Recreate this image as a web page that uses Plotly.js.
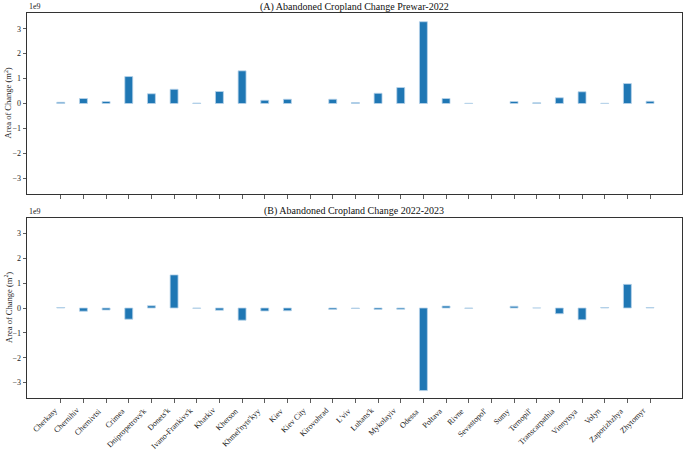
<!DOCTYPE html>
<html><head><meta charset="utf-8">
<script src="https://cdn.plot.ly/plotly-3.0.1.min.js"></script>
<style>html,body{margin:0;padding:0;background:#fff}#c{width:685px;height:450px}</style>
</head><body><div id="c"></div>
<script>
const regions = ["Cherkasy","Chernihiv","Chernivtsi","Crimea","Dnipropetrovs'k","Donets'k","Ivano-Frankivs'k","Kharkiv","Kherson","Khmel'nyts'kyy","Kiev","Kiev City","Kirovohrad","L'viv","Luhans'k","Mykolayiv","Odessa","Poltava","Rivne","Sevastopol'","Sumy","Ternopil'","Transcarpathia","Vinnytsya","Volyn","Zaporizhzhya","Zhytomyr"];
const changePrewar2022 = [0.05e9,0.2e9,0.08e9,1.08e9,0.39e9,0.57e9,0.02e9,0.48e9,1.31e9,0.13e9,0.17e9,null,0.17e9,0.04e9,0.41e9,0.64e9,3.28e9,0.2e9,0.01e9,null,0.08e9,0.03e9,0.23e9,0.47e9,0.01e9,0.8e9,0.09e9];
const change2022_2023 = [0.02e9,-0.13e9,-0.08e9,-0.45e9,0.09e9,1.33e9,-0.01e9,-0.09e9,-0.49e9,-0.12e9,-0.11e9,null,-0.06e9,-0.02e9,-0.06e9,-0.05e9,-3.32e9,0.08e9,-0.01e9,null,0.07e9,0.005e9,-0.23e9,-0.47e9,0.02e9,0.95e9,0.02e9];
const yTickVals = [-3e9,-2e9,-1e9,0,1e9,2e9,3e9];
const yTickText = ["\u22123","\u22122","\u22121","0","1","2","3"];
const titleA = "(A) Abandoned Cropland Change Prewar-2022";
const titleB = "(B) Abandoned Cropland Change 2022-2023";

const font = "Liberation Serif";
const barStyle = {color:"#1f77b4", line:{color:"#b8d3ea", width:0.8}};
const traces = [
  {type:"bar", x:regions, y:changePrewar2022, width:0.35, marker:barStyle, xaxis:"x", yaxis:"y"},
  {type:"bar", x:regions, y:change2022_2023, width:0.35, marker:barStyle, xaxis:"x2", yaxis:"y2"}
];
const xd = [27/685, 682/685];
const xr = [-1.49, 27.41];
const yr = [-3.63e9, 3.63e9];
const axCommon = {showline:true, mirror:true, linecolor:"#333", linewidth:1, ticks:"outside", ticklen:3.5, tickwidth:0.8, tickcolor:"#333", showgrid:false, zeroline:false, automargin:false, tickfont:{family:font, size:8, color:"#222"}};

const tickLabelAnns = regions.map(r => ({
  text:r, xref:"x2", yref:"paper", x:r, y:1-405/450, xanchor:"right", yanchor:"top",
  xshift:-1, textangle:-45, showarrow:false, borderpad:0,
  font:{family:font, size:8, color:"#222"}
}));

const layout = {
  width:685, height:450, margin:{l:0,r:0,t:0,b:0}, showlegend:false,
  paper_bgcolor:"#fff", plot_bgcolor:"#fff", font:{family:font},
  xaxis: Object.assign({}, axCommon, {domain:xd, range:xr, anchor:"y", showticklabels:false, type:"category"}),
  yaxis: Object.assign({}, axCommon, {domain:[1-194/450, 1-13/450], range:yr, anchor:"x", tickvals:yTickVals, ticktext:yTickText}),
  xaxis2: Object.assign({}, axCommon, {domain:xd, range:xr, anchor:"y2", showticklabels:false, type:"category"}),
  yaxis2: Object.assign({}, axCommon, {domain:[1-398.3/450, 1-217.7/450], range:yr, anchor:"x2", tickvals:yTickVals, ticktext:yTickText}),
  annotations:[
    {text:titleA, xref:"paper", yref:"paper", x:(27+682)/2/685, y:1-7/450, xanchor:"center", yanchor:"middle", showarrow:false, font:{family:font, size:10, color:"#111"}},
    {text:titleB, xref:"paper", yref:"paper", x:(27+682)/2/685, y:1-211/450, xanchor:"center", yanchor:"middle", showarrow:false, font:{family:font, size:10, color:"#111"}},
    {text:"1e9", xref:"paper", yref:"paper", x:27/685, y:1-7/450, xanchor:"left", yanchor:"middle", showarrow:false, font:{family:font, size:8, color:"#222"}},
    {text:"1e9", xref:"paper", yref:"paper", x:27/685, y:1-212/450, xanchor:"left", yanchor:"middle", showarrow:false, font:{family:font, size:8, color:"#222"}},
    {text:"Area of Change (m<sup>2</sup>)", xref:"paper", yref:"paper", x:8/685, y:1-103.5/450, xanchor:"center", yanchor:"middle", textangle:-90, showarrow:false, font:{family:font, size:8.5, color:"#222"}},
    {text:"Area of Change (m<sup>2</sup>)", xref:"paper", yref:"paper", x:8/685, y:1-308/450, xanchor:"center", yanchor:"middle", textangle:-90, showarrow:false, font:{family:font, size:8.5, color:"#222"}}
  ].concat(tickLabelAnns)
};
Plotly.newPlot("c", traces, layout, {staticPlot:true, displayModeBar:false});
</script></body></html>
